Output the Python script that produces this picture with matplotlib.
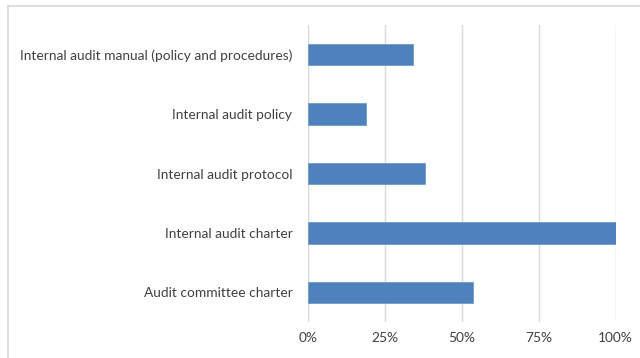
import matplotlib
matplotlib.use("Agg")
import matplotlib.pyplot as plt
from matplotlib.lines import Line2D
from matplotlib.ticker import FuncFormatter

# data, top to bottom as shown
categories = [
    "Internal audit manual (policy and procedures)",
    "Internal audit policy",
    "Internal audit protocol",
    "Internal audit charter",
    "Audit committee charter",
]
values = [34.2, 19.0, 38.2, 100.0, 53.6]
xticks = [0, 25, 50, 75, 100]

plt.rcParams["font.family"] = ["Lato", "DejaVu Sans"]

fig = plt.figure(figsize=(6.4, 3.58), dpi=100)
ax = fig.add_axes([0.4808, 0.1006, 0.4812, 0.8294])

ypos = list(range(len(categories)))[::-1]
ax.barh(ypos, values, height=0.36, color="#4f81bd", edgecolor="#6f9bd0", linewidth=0.6, zorder=3)

ax.set_xlim(0, 100)
ax.set_ylim(-0.5, 4.5)
ax.set_xticks(xticks)
ax.xaxis.set_major_formatter(FuncFormatter(lambda v, p: f"{v:.0f}%"))
ax.set_yticks(ypos)
ax.set_yticklabels(categories)

ax.grid(axis="x", color="#d9d9d9", linewidth=1.0, zorder=0)
for s in ax.spines.values():
    s.set_visible(False)
ax.tick_params(axis="both", length=0, colors="#404040", labelsize=9.9)
ax.tick_params(axis="x", pad=7)
ax.tick_params(axis="y", pad=11)

# chart frame (left and top edges visible)
fig.add_artist(Line2D([8 / 640, 8 / 640], [0, 1 - 6 / 358], transform=fig.transFigure, color="#d9d9d9", linewidth=1.2))
fig.add_artist(Line2D([8 / 640, 1], [1 - 6 / 358, 1 - 6 / 358], transform=fig.transFigure, color="#d9d9d9", linewidth=1.2))

fig.savefig("out.png", dpi=100)
